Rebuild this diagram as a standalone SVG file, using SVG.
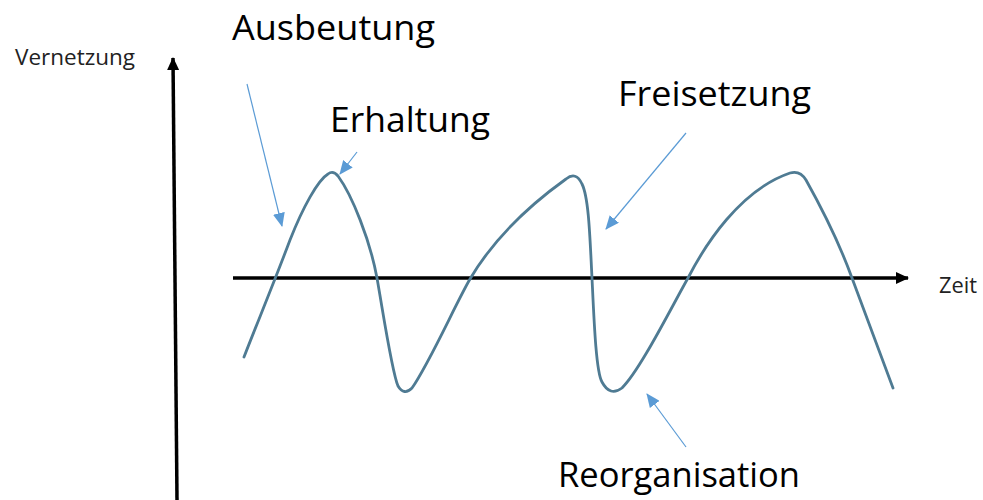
<svg xmlns="http://www.w3.org/2000/svg" width="983" height="500" viewBox="0 0 983 500">
  <style>
    .big { font-family: "Open Sans", "Liberation Sans", sans-serif; font-size: 34px; fill: #000; }
    .small { font-family: "Open Sans", "Liberation Sans", sans-serif; font-size: 21px; fill: #222; }
    .axis { stroke: #000; stroke-width: 3.5; fill: none; }
    .curve { stroke: #4f7b93; stroke-width: 2.8; fill: none; stroke-linejoin: round; stroke-linecap: round; }
    .ann { stroke: #5b9bd5; stroke-width: 1.2; fill: none; }
  </style>
  <defs>
    <marker id="blueHead" markerUnits="userSpaceOnUse" markerWidth="14" markerHeight="12" refX="13" refY="6" orient="auto">
      <path d="M0,0 L14,6 L0,12 Z" fill="#5b9bd5"/>
    </marker>
    <marker id="blackHead" markerUnits="userSpaceOnUse" markerWidth="13" markerHeight="12" refX="12" refY="6" orient="auto">
      <path d="M0,0 L13,6 L0,12 Z" fill="#000"/>
    </marker>
  </defs>
  <rect width="983" height="500" fill="#fff"/>

  <g id="axes">
    <line class="axis" x1="177" y1="500" x2="173" y2="58" marker-end="url(#blackHead)"/>
    <line class="axis" x1="233" y1="278" x2="908" y2="278" marker-end="url(#blackHead)"/>
  </g>

  <g id="cycle-curve">
    <path class="curve" d="M244,357 C256,326 275,280 290,240 C303,207 318,180 328,174 Q333,170 338,176 C352,195 370,240 377,278 C384,318 392,372 398,386 Q404,396 412,388 C430,362 455,305 470,279 C490,245 520,212 566,179 Q576,171 582,184 C589,198 590,240 592,278 C594,320 596,372 602,382 Q610,397 622,388 C640,370 670,310 688,278 C705,245 740,190 790,173 Q800,170 806,180 C820,205 840,245 852,278 L893,388"/>
  </g>

  <g id="labels">
    <text class="small" x="15" y="65" textLength="120" lengthAdjust="spacingAndGlyphs">Vernetzung</text>
    <text class="small" x="939" y="293" textLength="38" lengthAdjust="spacingAndGlyphs">Zeit</text>
  </g>

  <g id="node-ausbeutung">
    <text class="big" x="232" y="40" textLength="203" lengthAdjust="spacingAndGlyphs">Ausbeutung</text>
  </g>
  <g id="node-erhaltung">
    <text class="big" x="330" y="132" textLength="160" lengthAdjust="spacingAndGlyphs">Erhaltung</text>
  </g>
  <g id="node-freisetzung">
    <text class="big" x="618" y="106" textLength="193" lengthAdjust="spacingAndGlyphs">Freisetzung</text>
  </g>
  <g id="node-reorganisation">
    <text class="big" x="558" y="487" textLength="242" lengthAdjust="spacingAndGlyphs">Reorganisation</text>
  </g>

  <g id="connectors">
    <line class="ann" x1="247" y1="84" x2="282" y2="226" marker-end="url(#blueHead)"/>
    <line class="ann" x1="357" y1="152" x2="340" y2="174" marker-end="url(#blueHead)"/>
    <line class="ann" x1="686" y1="133" x2="606" y2="229" marker-end="url(#blueHead)"/>
    <line class="ann" x1="686" y1="447" x2="647" y2="394" marker-end="url(#blueHead)"/>
  </g>
</svg>
